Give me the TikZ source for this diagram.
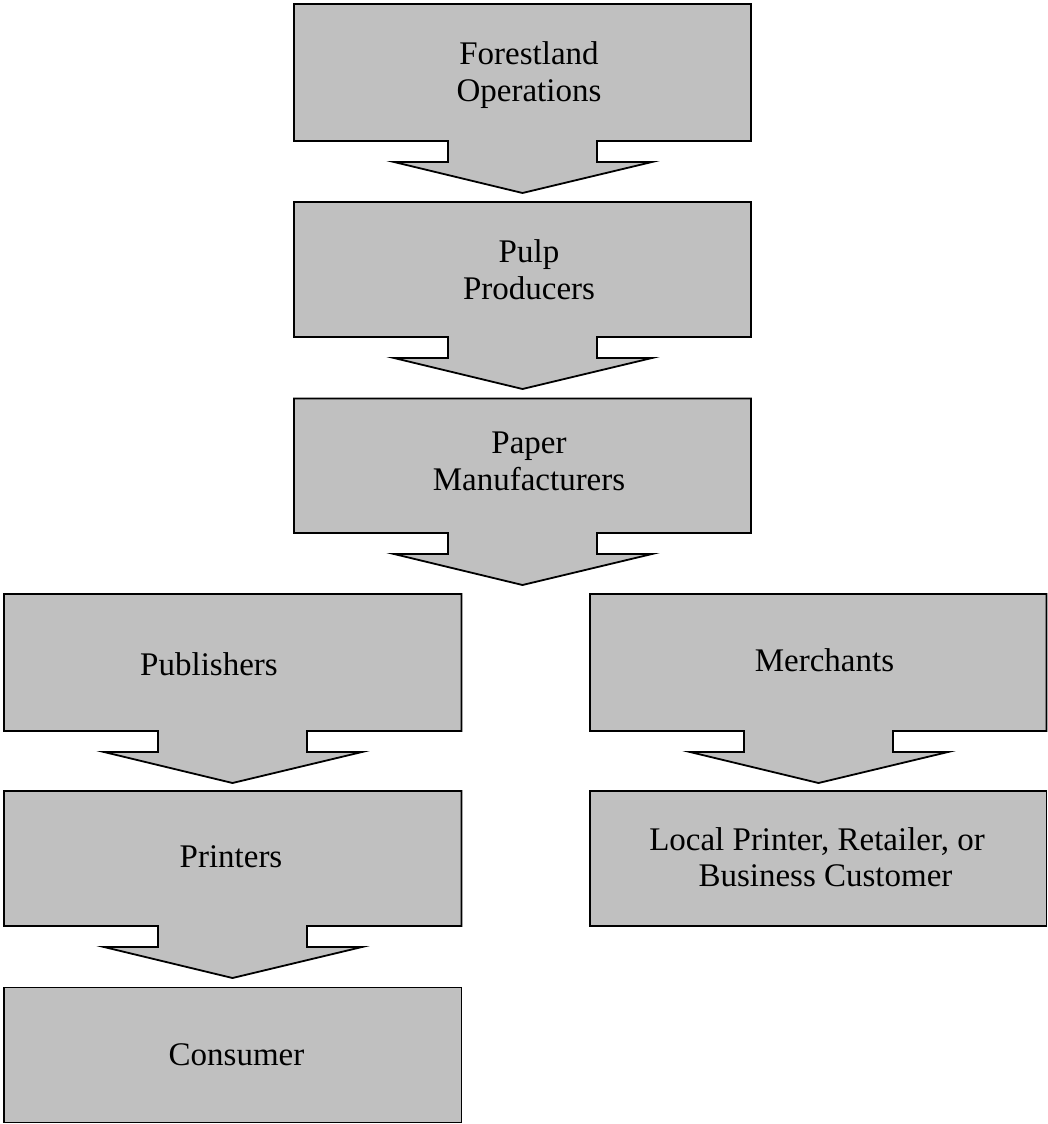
\documentclass[tikz,border=0pt]{standalone}
\usepackage{fontspec}
\setmainfont{Liberation Serif}
\definecolor{boxgray}{RGB}{192,192,192}
\tikzset{
  shapeline/.style={draw=black, fill=boxgray, line width=1.8pt, line join=miter},
  lbl/.style={anchor=base, inner sep=0pt, outer sep=0pt, font=\fontsize{33}{36.5}\selectfont}
}
% #1 = left x, #2 = top y, #3 = bottom y of box, #4 = width
\newcommand\flowbox[4]{%
  \path[shapeline] (#1,#2) -- ({#1+#4},#2) -- ({#1+#4},#3) -- ({#1+303},#3) -- ({#1+303},{#3+21})
    -- ({#1+358},{#3+21}) -- ({#1+228.5},{#3+52}) -- ({#1+100},{#3+21}) -- ({#1+154},{#3+21})
    -- ({#1+154},#3) -- (#1,#3) -- cycle;}
\newcommand\twolines[2]{\begin{tabular}[t]{@{}c@{}}#1\\#2\end{tabular}}
\begin{document}
\begin{tikzpicture}[x=1pt, y=-1pt]
\useasboundingbox (0,0) rectangle (1048,1124);
% shapes
\flowbox{294}{4}{141}{457}
\flowbox{294}{202}{337}{457}
\flowbox{294}{398.5}{533}{457}
\flowbox{4}{594}{731}{457.5}
\flowbox{590}{594}{731}{456.5}
\flowbox{4}{791}{926}{457.5}
\path[shapeline] (590,791) rectangle (1046.5,926);
\path[shapeline] (4,987.5) rectangle (461.5,1122.5);
% labels
\node[lbl] (forest) at (529,65) {\twolines{Forestland}{Operations}};
\node[lbl] (pulp) at (529,262.5) {\twolines{Pulp}{Producers}};
\node[lbl] (paper) at (529,453.5) {\twolines{Paper}{Manufacturers}};
\node[lbl] (publishers) at (209,675.5) {Publishers};
\node[lbl] (merchants) at (824.5,671.5) {Merchants};
\node[lbl] (printers) at (231,867.5) {Printers};
\node[lbl] (local) at (817,850) {\twolines{Local Printer, Retailer, or}{\hspace*{17pt}Business Customer}};
\node[lbl] (consumer) at (236.5,1065.5) {Consumer};
\end{tikzpicture}
\end{document}
